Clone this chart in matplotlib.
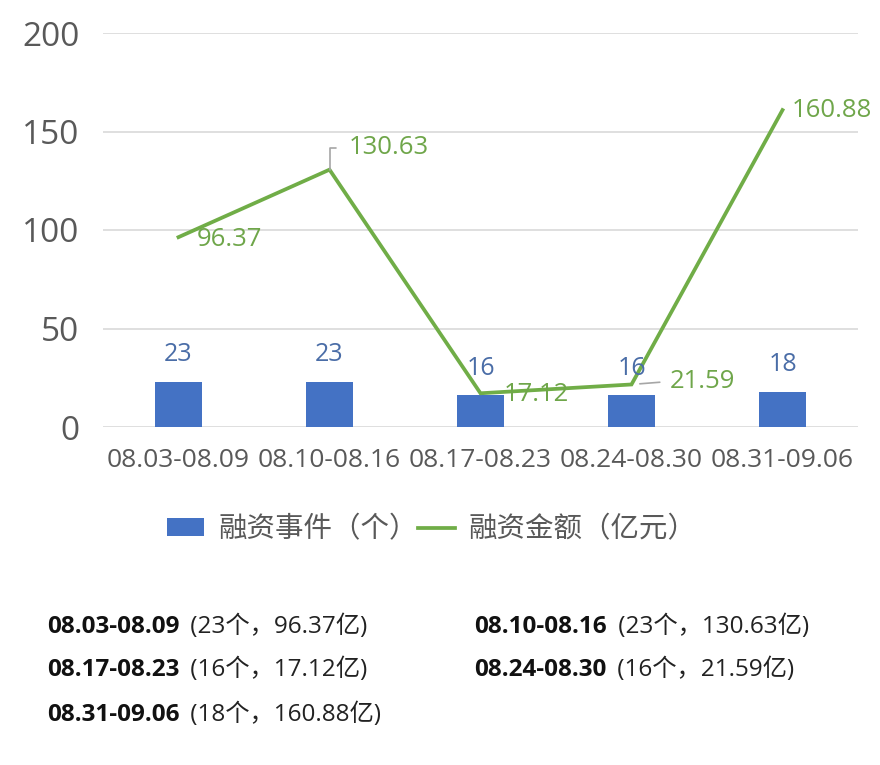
import matplotlib
matplotlib.use("Agg")
import matplotlib.pyplot as plt
from matplotlib.patches import Patch
from matplotlib.lines import Line2D

plt.rcParams['font.family'] = ['Open Sans', 'Noto Sans CJK SC', 'DejaVu Sans']

categories = ["08.03-08.09", "08.10-08.16", "08.17-08.23", "08.24-08.30", "08.31-09.06"]
events = [23, 23, 16, 16, 18]
amounts = [96.37, 130.63, 17.12, 21.59, 160.88]
yticks = [0, 50, 100, 150, 200]
legend_labels = ["融资事件（个）", "融资金额（亿元）"]

BLUE = '#4472C4'
GREEN = '#70AD47'
BAR_LBL = '#4A6DA7'
LINE_LBL = '#6FA64A'
GRAY = '#595959'

fig = plt.figure(figsize=(8.8, 7.65), dpi=100)
ax = fig.add_axes([103/880, 1-427/765, 755/880, 394/765])
x = list(range(len(categories)))

ax.bar(x, events, width=0.31, color=BLUE, zorder=2)
ax.plot(x, amounts, color=GREEN, lw=2.7, zorder=3, solid_joinstyle='miter')

ax.set_xlim(-0.5, 4.5)
ax.set_ylim(0, 200)
ax.set_yticks(yticks)
ax.set_xticks(x)
ax.set_xticklabels(categories)
ax.grid(axis='y', color='#D9D9D9', lw=1.2, zorder=0)
ax.set_axisbelow(True)
for s in ax.spines.values():
    s.set_visible(False)
ax.tick_params(axis='y', length=0, pad=17, labelsize=24, labelcolor=GRAY)
ax.tick_params(axis='x', length=0, pad=15, labelsize=19, labelcolor=GRAY)

# bar labels
for xi, v in zip(x, events):
    ax.annotate(str(v), xy=(xi, v), xytext=(0, 27), textcoords='offset pixels',
                ha='center', va='center', fontsize=18, color=BAR_LBL, zorder=4)

# line labels
offsets = [(18, -2), (19, 22), (23, -1), (38, 3), (9, 0)]
for i, (xi, v) in enumerate(zip(x, amounts)):
    dx, dy = offsets[i]
    kw = {}
    if i == 1:
        kw['arrowprops'] = dict(arrowstyle='-', color='#A6A6A6', lw=1.2,
                                connectionstyle='angle,angleA=0,angleB=90,rad=0',
                                relpos=(0, 0.5), shrinkA=7, shrinkB=0)
    elif i == 3:
        kw['arrowprops'] = dict(arrowstyle='-', color='#A6A6A6', lw=1.2,
                                relpos=(0, 0.5), shrinkA=5, shrinkB=6)
    ax.annotate(f"{v:.2f}", xy=(xi, v), xytext=(dx, dy), textcoords='offset pixels',
                ha='left', va='center', fontsize=18.5, color=LINE_LBL, zorder=5, **kw)

# legend
handles = [Patch(facecolor=BLUE, edgecolor='none'),
           Line2D([0], [0], color=GREEN, lw=2.7)]
fig.legend(handles, legend_labels, loc='center', bbox_to_anchor=(432/880, 1-530/765),
           ncol=2, frameon=False, fontsize=20.5, labelcolor=GRAY,
           handlelength=1.3, handleheight=0.55, handletextpad=0.5, columnspacing=0.0)

# bottom summary
rows = [(47, 627, 0), (474, 627, 1), (47, 670, 2), (474, 670, 3), (47, 715, 4)]
for px, py, i in rows:
    t = fig.text(px/880, 1-py/765, categories[i], fontsize=17.5, fontweight='bold',
                 color='#111111', ha='left', va='center')
    ax.annotate(f" ({events[i]}个，{amounts[i]:.2f}亿)", xy=(1, 0.5), xycoords=t,
                xytext=(5, 0), textcoords='offset pixels', ha='left', va='center',
                fontsize=17.5, color='#222222', annotation_clip=False)

fig.savefig("out.png", dpi=100)
